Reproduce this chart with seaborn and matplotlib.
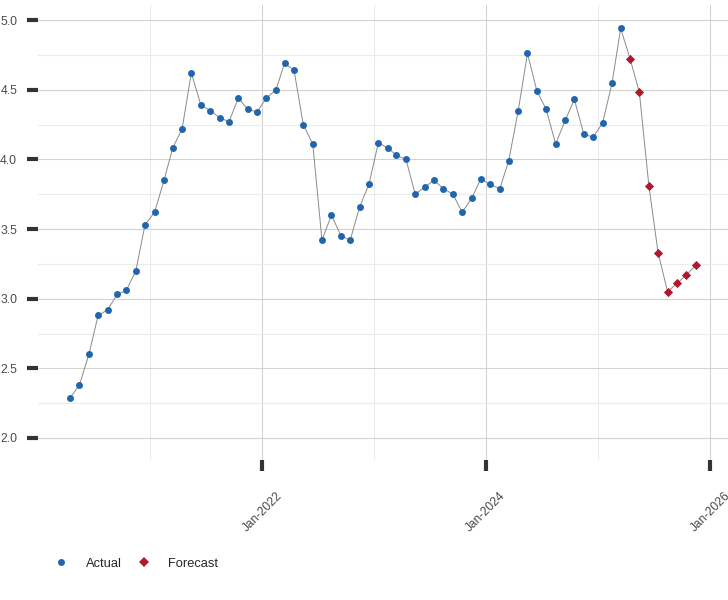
import pandas as pd
import matplotlib
matplotlib.use("Agg")
import matplotlib.pyplot as plt
import matplotlib.dates as mdates
from matplotlib.ticker import MultipleLocator, FixedLocator
from matplotlib.lines import Line2D
import seaborn as sns


# --- data (monthly, Apr-2020 onwards) ---
actual_values = [2.29, 2.38, 2.60, 2.88, 2.92, 3.03, 3.06, 3.20, 3.53, 3.62,
                 3.85, 4.08, 4.22, 4.62, 4.39, 4.35, 4.30, 4.27, 4.44, 4.36,
                 4.34, 4.44, 4.50, 4.69, 4.64, 4.25, 4.11, 3.42, 3.60, 3.45,
                 3.42, 3.66, 3.82, 4.12, 4.08, 4.03, 4.00, 3.75, 3.80, 3.85,
                 3.79, 3.75, 3.62, 3.72, 3.86, 3.82, 3.79, 3.99, 4.35, 4.76,
                 4.49, 4.36, 4.11, 4.28, 4.43, 4.18, 4.16, 4.26, 4.55, 4.94]
forecast_values = [4.72, 4.48, 3.81, 3.33, 3.05, 3.11, 3.17, 3.24]
series_labels = ["Actual", "Forecast"]
first_month = "2020-04-01"
x_tick_dates = ["2022-01-01", "2024-01-01", "2026-01-01"]
x_minor_dates = ["2021-01-01", "2023-01-01", "2025-01-01"]

COLORS = {"Actual": "#2166ac", "Forecast": "#b2182b"}

n_points = len(actual_values) + len(forecast_values)
dates = pd.date_range(first_month, periods=n_points, freq="MS") + pd.Timedelta(days=14)
df = pd.DataFrame({
    "date": dates,
    "value": actual_values + forecast_values,
    "series": [series_labels[0]] * len(actual_values) + [series_labels[1]] * len(forecast_values),
})

# Plot settings
sns.set_style("whitegrid")
plt.rcParams["font.family"] = ["Liberation Sans", "DejaVu Sans"]

fig = plt.figure(figsize=(7.28, 6), dpi=100)
ax = fig.add_axes([38 / 728, 140 / 600, 690 / 728, 455 / 600])

# thin grey connector through every point
sns.lineplot(data=df, x="date", y="value", color="#8a8a8a", linewidth=0.7, ax=ax, zorder=2)

# markers
sns.scatterplot(data=df[df["series"] == "Actual"], x="date", y="value", color=COLORS["Actual"],
                marker="o", s=25, linewidth=0, ax=ax, zorder=3)
sns.scatterplot(data=df[df["series"] == "Forecast"], x="date", y="value", color=COLORS["Forecast"],
                marker="D", s=22, linewidth=0, ax=ax, zorder=3)

# axes ranges
ax.set_xlim(pd.Timestamp("2020-01-01"), pd.Timestamp("2026-02-28"))
ax.set_ylim(1.842, 5.108)

# ticks + grid
ax.xaxis.set_major_locator(FixedLocator(mdates.date2num(pd.to_datetime(x_tick_dates))))
ax.xaxis.set_minor_locator(FixedLocator(mdates.date2num(pd.to_datetime(x_minor_dates))))
ax.xaxis.set_major_formatter(mdates.DateFormatter("%b-%Y"))
ax.yaxis.set_major_locator(MultipleLocator(0.5))
ax.yaxis.set_minor_locator(MultipleLocator(0.25))
ax.yaxis.set_major_formatter(matplotlib.ticker.FormatStrFormatter("%.1f"))

ax.grid(which="major", color="#d2d2d2", linewidth=0.8)
ax.grid(which="minor", color="#ebebeb", linewidth=0.8)
ax.set_axisbelow(True)

ax.tick_params(axis="y", which="major", left=True, length=8, width=3, color="#333333",
               pad=7, labelsize=8.7, labelcolor="#4a4a4a")
ax.tick_params(axis="x", which="major", bottom=True, length=8, width=3, color="#333333",
               pad=13.5, labelsize=8.7, labelcolor="#4a4a4a", labelrotation=45)
ax.tick_params(which="minor", length=0)
for lbl in ax.get_xticklabels():
    lbl.set_ha("center")

for side in ["top", "right", "bottom", "left"]:
    ax.spines[side].set_visible(False)
ax.set_xlabel("")
ax.set_ylabel("")

# legend at the bottom left
handles = [
    Line2D([], [], linestyle="none", marker="o", markersize=5, markeredgewidth=0,
           color=COLORS["Actual"]),
    Line2D([], [], linestyle="none", marker="D", markersize=4.6, markeredgewidth=0,
           color=COLORS["Forecast"]),
]
fig.legend(handles, series_labels, loc="center left", bbox_to_anchor=(55 / 728, 1 - 564 / 600),
           ncol=2, frameon=False, fontsize=9.3, handlelength=1.0, handletextpad=1.4,
           columnspacing=1.2, borderpad=0, borderaxespad=0)

fig.savefig("out.png", dpi=100)
